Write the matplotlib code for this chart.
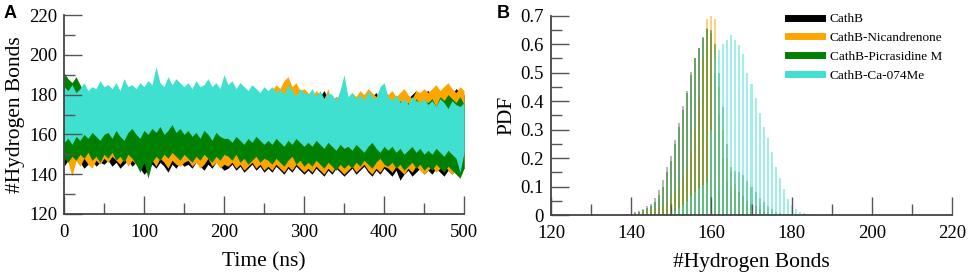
import numpy as np
import matplotlib
matplotlib.use("Agg")
import matplotlib.pyplot as plt
from matplotlib.ticker import MultipleLocator

plt.rcParams['font.family'] = ['Liberation Serif', 'DejaVu Serif']

# ---- panel A: hydrogen bond time series, band envelopes every 5 ns ----
time_ns = list(range(0, 501, 5))

cathb_lo = [144,147,145,148,146,143,145,147,144,146,145,
            147,144,146,143,145,147,144,146,143,140,
            142,145,143,146,144,141,145,143,146,144,
            145,143,146,144,142,145,143,146,144,142,
            143,145,142,144,141,143,145,142,144,141,
            143,141,144,142,140,143,141,144,142,140,
            142,140,143,141,139,142,140,143,141,139,
            141,143,140,142,144,141,139,142,140,143,
            141,139,142,137,140,142,139,141,143,140,
            142,140,143,141,139,142,140,143,141,143]
cathb_hi = [178,176,179,177,175,178,176,179,177,175,178,
            176,179,177,180,178,176,181,177,179,177,
            178,180,177,179,181,178,176,179,177,180,
            179,177,180,178,176,179,177,180,178,176,
            178,180,177,179,176,181,178,182,179,177,
            179,177,180,178,181,179,177,180,178,176,
            178,180,177,179,182,178,176,179,177,180,
            177,179,176,178,180,177,179,181,178,180,
            178,180,177,179,181,178,180,182,179,181,
            182,180,183,181,184,182,180,183,181,180]

nican_lo = [150,146,139,147,144,148,145,143,147,145,148,
            146,149,147,145,148,144,147,145,143,146,
            145,147,144,148,146,143,147,145,144,146,
            147,144,146,143,145,148,144,146,143,145,
            144,146,143,145,142,144,146,143,145,142,
            144,142,145,143,141,144,142,145,143,141,
            143,141,144,142,140,143,141,144,142,140,
            142,144,141,143,145,142,140,143,141,144,
            143,141,144,142,140,143,141,144,142,140,
            142,144,141,143,145,142,140,143,141,143]
nican_hi = [176,178,175,177,174,176,173,175,177,174,176,
            175,177,174,176,178,175,177,174,176,178,
            177,179,176,178,175,177,179,176,178,177,
            178,176,179,177,175,178,176,179,177,178,
            177,179,176,178,180,177,179,176,178,181,
            180,182,185,183,187,189,184,186,182,183,
            181,179,182,180,178,183,176,179,177,180,
            178,181,179,182,180,183,181,179,183,182,
            180,182,179,181,183,180,178,182,181,183,
            181,183,185,182,184,186,183,181,184,182]

picra_lo = [148,146,149,147,150,148,151,147,149,146,150,
            148,151,147,149,146,150,148,145,141,146,
            138,146,149,147,150,148,151,149,147,150,
            148,146,149,147,150,148,146,149,147,150,
            149,147,150,146,148,145,147,149,146,148,
            147,145,148,146,144,147,149,145,147,144,
            146,144,147,145,143,146,144,142,145,143,
            145,143,146,144,147,145,143,146,148,145,
            144,146,143,145,142,144,146,143,145,142,
            144,142,145,143,141,144,142,140,138,143]
picra_hi = [191,188,186,189,185,181,178,176,177,175,176,
            175,174,176,173,175,174,172,175,173,174,
            175,173,176,174,172,175,173,176,174,173,
            174,172,175,173,171,174,172,175,173,171,
            173,171,174,172,170,173,171,169,172,170,
            171,169,172,170,168,171,169,172,170,168,
            170,172,175,171,174,172,169,173,171,170,
            172,174,171,176,173,175,172,178,174,176,
            173,175,172,177,174,176,173,178,175,177,
            176,178,174,179,177,180,178,176,179,175]

ca074_lo = [156,158,155,159,157,160,158,161,159,157,160,
            161,158,162,159,157,161,163,160,158,162,
            160,163,161,164,160,162,165,161,163,160,
            162,159,161,158,162,160,157,161,159,158,
            158,156,159,157,155,158,156,159,157,155,
            157,155,158,156,154,157,155,158,156,154,
            156,154,157,155,153,156,154,152,155,153,
            154,152,155,153,151,154,156,153,151,154,
            152,154,151,153,150,152,154,151,153,150,
            152,150,153,151,149,152,150,148,141,151]
ca074_hi = [184,182,185,181,183,186,182,184,183,187,184,
            185,183,186,182,188,184,185,183,186,184,
            187,185,194,186,184,189,185,188,186,184,
            186,183,187,184,185,188,184,186,183,190,
            185,187,183,186,184,182,185,183,181,184,
            182,184,181,183,180,185,182,179,183,181,
            180,183,179,182,178,181,180,177,182,190,
            179,181,178,180,177,182,179,178,184,186,
            179,177,180,176,178,175,179,177,176,178,
            175,177,174,178,176,173,177,175,174,176]

# ---- panel B: PDF of hydrogen bond counts ----
hb_bins = list(range(138, 187))
cathb_pdf = [0.001,0.002,0.003,0.009,0.014,0.021,0.033,0.039,0.058,0.088,
             0.123,0.167,0.208,0.263,0.322,0.384,0.435,0.503,0.552,0.587,
             0.626,0.657,0.640,0.500,0.350,0.200,0.120,0.100,0.090,0.080,
             0.065,0.050,0.040,0.030,0.020,0.013,0.008,0.005,0.003,0.002,
             0.001,0,0,0,0,0,0,0,0]
nican_pdf = [0,0,0.001,0.002,0.004,0.008,0.012,0.016,0.020,0.025,
             0.030,0.045,0.060,0.080,0.100,0.130,0.170,0.220,0.300,0.400,
             0.550,0.688,0.698,0.688,0.450,0.300,0.200,0.150,0.110,0.080,
             0.060,0.040,0.030,0.020,0.012,0.007,0.004,0.002,0.001,0,
             0,0,0,0,0,0,0,0,0]
picra_pdf = [0,0.001,0.002,0.006,0.010,0.016,0.026,0.033,0.045,0.070,
             0.100,0.150,0.190,0.250,0.310,0.370,0.430,0.490,0.550,0.585,
             0.620,0.655,0.650,0.600,0.500,0.380,0.250,0.170,0.155,0.150,
             0.140,0.120,0.100,0.080,0.060,0.045,0.030,0.020,0.012,0.007,
             0.004,0.002,0,0,0,0,0,0,0]
ca074_pdf = [0,0,0,0,0,0,0,0,0.001,0.002,
             0.003,0.005,0.010,0.015,0.025,0.035,0.050,0.065,0.080,0.095,
             0.105,0.115,0.300,0.550,0.580,0.600,0.615,0.633,0.616,0.596,
             0.567,0.500,0.460,0.410,0.360,0.310,0.270,0.220,0.170,0.130,
             0.090,0.055,0.035,0.020,0.012,0.007,0.004,0.002,0.001]

names = ['CathB', 'CathB-Nicandrenone', 'CathB-Picrasidine M', 'CathB-Ca-074Me']
colors = ['black', '#FFA500', '#008000', '#40E0D0']
bar_alpha = [0.28, 0.5, 0.42, 0.5]

fig = plt.figure(figsize=(9.69, 2.74), dpi=100)
axA = fig.add_axes([64/969, 1-214/274, 400/969, 199/274])
axB = fig.add_axes([551/969, 1-215/274, 401/969, 199.3/274])

t = np.array(time_ns)
bands = [(cathb_lo, cathb_hi), (nican_lo, nican_hi), (picra_lo, picra_hi), (ca074_lo, ca074_hi)]
for (lo, hi), c in zip(bands, colors):
    axA.fill_between(t, lo, hi, color=c, linewidth=0)

x = np.array(hb_bins)
pdfs = [cathb_pdf, nican_pdf, picra_pdf, ca074_pdf]
for p, c, a, n in zip(pdfs, colors, bar_alpha, names):
    axB.bar(x, p, width=0.5, color=c, alpha=a, linewidth=0)
    axB.plot([], [], color=c, lw=5, label=n)

for ax in (axA, axB):
    for s in ('top', 'right'):
        ax.spines[s].set_visible(False)
    for s in ('left', 'bottom'):
        ax.spines[s].set_linewidth(1.3)
        ax.spines[s].set_color('#444444')
    ax.tick_params(which='major', direction='in', length=13, width=1.0, color='#555555', labelsize=13.5)
    ax.tick_params(which='minor', direction='in', length=8, width=1.0, color='#555555')
    ax.tick_params(axis='x', which='major', pad=7)
    ax.tick_params(axis='y', which='major', pad=5)

axA.set_xlim(0, 500)
axA.set_ylim(120, 220)
axA.xaxis.set_major_locator(MultipleLocator(100))
axA.xaxis.set_minor_locator(MultipleLocator(50))
axA.yaxis.set_major_locator(MultipleLocator(20))
axA.yaxis.set_minor_locator(MultipleLocator(10))
axA.set_xlabel('Time (ns)', fontsize=15.5, labelpad=8)
axA.set_ylabel('#Hydrogen Bonds', fontsize=15.5, labelpad=3)

axB.set_xlim(120, 220)
axB.set_ylim(0, 0.7)
axB.xaxis.set_major_locator(MultipleLocator(20))
axB.xaxis.set_minor_locator(MultipleLocator(10))
axB.yaxis.set_minor_locator(MultipleLocator(0.05))
axB.set_yticks(np.arange(0, 0.71, 0.1))
axB.set_yticklabels(['0', '0.1', '0.2', '0.3', '0.4', '0.5', '0.6', '0.7'])
axB.set_xlabel('#Hydrogen Bonds', fontsize=15.5, labelpad=8)
axB.set_ylabel('PDF', fontsize=15.5, labelpad=3)

axB.legend(loc='upper left', bbox_to_anchor=(788/969, 1-13/274), bbox_transform=fig.transFigure,
           frameon=False, fontsize=9.5, handlelength=2.6, handletextpad=0.55,
           labelspacing=0.5, borderpad=0, borderaxespad=0)

fig.text(4/969, 1-5/274, 'A', fontsize=13, fontweight='bold', family='Liberation Sans', va='top', ha='left')
fig.text(497/969, 1-5/274, 'B', fontsize=13, fontweight='bold', family='Liberation Sans', va='top', ha='left')

fig.savefig('out.png', dpi=100)
